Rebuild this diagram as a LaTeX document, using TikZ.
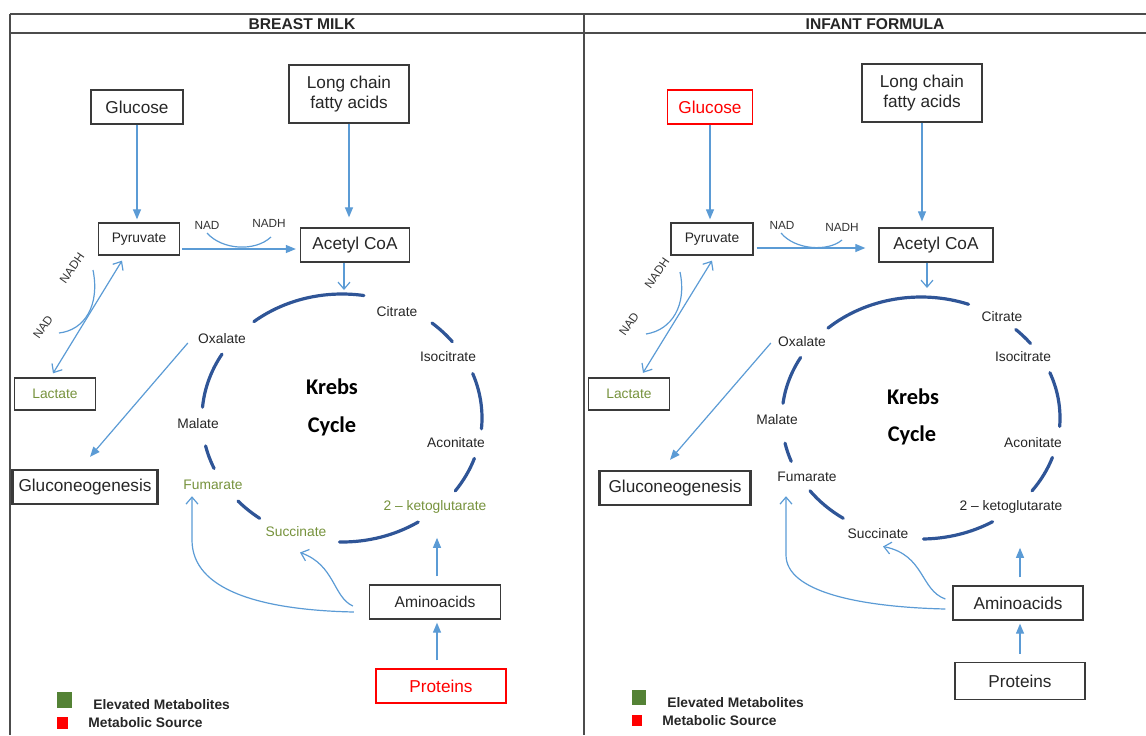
\documentclass[tikz,border=0pt]{standalone}
\usepackage{fontspec}
\setmainfont{Liberation Sans}
\newfontfamily\krebsfont{Carlito}
\usetikzlibrary{arrows.meta,calc}

\definecolor{arrblue}{HTML}{5B9BD5}
\definecolor{cycnavy}{HTML}{2F5597}
\definecolor{metgreen}{HTML}{76923C}
\definecolor{leggreen}{HTML}{548235}
\definecolor{boxgray}{HTML}{3A3A3A}

\tikzset{
  box/.style={draw=boxgray, line width=0.65pt, inner sep=0pt, minimum height=17pt, align=center,
    text=black!85, font=\fontsize{8.6}{10}\selectfont},
  smallbox/.style={box, minimum height=16pt, font=\fontsize{6.9}{8}\selectfont},
  met/.style={inner sep=0pt, text=black!85, font=\fontsize{6.9}{8}\selectfont},
  cof/.style={inner sep=0pt, text=black!80, font=\fontsize{5.9}{7}\selectfont},
  krebs/.style={inner sep=0pt, font=\krebsfont\bfseries\fontsize{11.2}{13}\selectfont},
  head/.style={inner sep=0pt, text=black!85, font=\bfseries\fontsize{7.8}{9}\selectfont},
  legtxt/.style={inner sep=0pt, anchor=west, text=black!85, font=\bfseries\fontsize{6.9}{8}\selectfont},
  fillarr/.style={arrblue, line width=0.6pt, -{Triangle[length=5pt,width=4pt]}},
  openarr/.style={arrblue, line width=0.6pt, -{Straight Barb[length=3.5pt,width=6pt]}},
  bothopen/.style={arrblue, line width=0.6pt, {Straight Barb[length=3.5pt,width=6pt]}-{Straight Barb[length=3.5pt,width=6pt]}},
  cofarc/.style={arrblue, line width=0.6pt},
  cycarc/.style={cycnavy, line width=1.6pt, line cap=round},
  frame/.style={draw=black!70, line width=1pt}
}

\begin{document}
\begin{tikzpicture}[x=0.5pt, y=-0.5pt]
\useasboundingbox (0,0) rectangle (1146,735);

% frame and headers
\draw[frame] (10,14) -- (1146,14);
\draw[frame] (10,33) -- (1146,33);
\draw[frame] (10,14) -- (10,735);
\draw[frame] (584,14) -- (584,735);
\node[head] (hbm) at (302,24) {BREAST MILK};
\node[head] (hif) at (875,24) {INFANT FORMULA};

% ---------- breast milk ----------
\node[box, minimum width=46pt] (glucL) at (137,107) {Glucose};
\node[box, minimum width=60pt, minimum height=29pt] (lcfaL) at (349,94) {Long chain\\fatty acids};
\node[smallbox, minimum width=40.5pt] (pyrL) at (139,239) {Pyruvate};
\node[box, minimum width=54.5pt] (acetylL) at (355,245) {Acetyl CoA};
\node[smallbox, minimum width=40.5pt, text=metgreen] (lacL) at (55,394) {Lactate};
\node[box, line width=1.2pt, minimum width=72.5pt] (gluL) at (85,487) {Gluconeogenesis};
\node[box, minimum width=65.5pt, font=\fontsize{7.8}{9}\selectfont] (aminoL) at (435,602) {Aminoacids};
\node[box, draw=red, text=red, minimum width=65pt] (protL) at (441,686) {Proteins};

\draw[fillarr, shorten >=1.5pt] (glucL.south) -- (glucL.south |- pyrL.north);
\draw[fillarr, shorten >=5pt] (lcfaL.south) -- (lcfaL.south |- acetylL.north);
\draw[fillarr, shorten <=1pt, shorten >=2pt] ([yshift=-5pt]pyrL.east) -- ([yshift=-5pt]pyrL.east -| acetylL.west);
\node[cof] (nadL) at (207,225) {NAD};
\node[cof] (nadhL) at (269,223) {NADH};
\draw[cofarc] (207,233) .. controls (222,250) and (255,252) .. (271,237);

\draw[bothopen] ($(pyrL.south)+(-17,5)$) -- ($(lacL.north)+(-2,-4)$);
\draw[cofarc] (93,270) .. controls (100,305) and (85,330) .. (59,333);
\node[cof, rotate=55] (nadhL2) at (72,268) {NADH};
\node[cof, rotate=55] (nadL2) at (43,327) {NAD};

% krebs cycle
\coordinate (kcL) at (342,418);
\foreach \a/\b in {-129/-81,-50/-38,-21/5,19/36,57/91,126/138,156/167,185/211}
  \draw[cycarc] (kcL) ++(\a:140 and 124) arc[start angle=\a, end angle=\b, x radius=140, y radius=124];
\node[met] (citL) at (397,312) {Citrate};
\node[met] (isoL) at (448,357) {Isocitrate};
\node[met] (aconL) at (456,443) {Aconitate};
\node[met, text=metgreen] (ketoL) at (435,507) {2 – ketoglutarate};
\node[met, text=metgreen] (succL) at (296,532) {Succinate};
\node[met, text=metgreen] (fumL) at (213,485) {Fumarate};
\node[met] (malL) at (198,424) {Malate};
\node[met] (oxaL) at (222,339) {Oxalate};
\node[krebs] (krebsL) at (332,387) {Krebs};
\node[krebs] (cycleL) at (332,426) {Cycle};

\coordinate (kcLtop) at (344,290);
\draw[openarr] (acetylL.south -| kcLtop) -- (kcLtop);
\draw[fillarr] ($(oxaL.west)+(-10,4)$) -- ($(gluL.north)+(5,-12)$);
\draw[fillarr, shorten <=4pt, shorten >=12pt] ([xshift=1pt]aminoL.north) -- ([xshift=1pt]aminoL.north |- ketoL.south);
\draw[fillarr, shorten <=4pt, shorten >=1.5pt] ([xshift=-2pt]protL.north) -- ([xshift=-2pt]protL.north |- aminoL.south);
\draw[openarr] ($(aminoL.west)+(-15,10)$) .. controls (260,610) and (192,590) .. (192,540) -- ($(fumL.south)+(-21,6)$);
\draw[openarr] ($(aminoL.west)+(-16,4)$) .. controls (333,597) and (335,565) .. ($(succL.south)+(4,15)$);

% legend
\node[fill=leggreen, minimum width=7.5pt, minimum height=8pt, inner sep=0pt] (sqgL) at (64.5,700) {};
\node[legtxt] (elevL) at (93,705) {Elevated Metabolites};
\node[fill=red, minimum width=5.5pt, minimum height=6pt, inner sep=0pt] (sqrL) at (62.5,723) {};
\node[legtxt] (srcL) at (88,723) {Metabolic Source};

% ---------- infant formula ----------
\node[box, draw=red, text=red, minimum width=42.5pt] (glucR) at (710,107) {Glucose};
\node[box, minimum width=60pt, minimum height=29pt] (lcfaR) at (922,93) {Long chain\\fatty acids};
\node[smallbox, minimum width=41pt] (pyrR) at (712,239) {Pyruvate};
\node[box, minimum width=57pt] (acetylR) at (936,245) {Acetyl CoA};
\node[smallbox, minimum width=40.5pt, text=metgreen] (lacR) at (629,394) {Lactate};
\node[box, line width=1.2pt, minimum width=75.5pt] (gluR) at (675,488) {Gluconeogenesis};
\node[box, minimum width=65pt] (aminoR) at (1018,603) {Aminoacids};
\node[box, minimum width=65pt, minimum height=18.5pt] (protR) at (1020,681) {Proteins};

\draw[fillarr, shorten >=1.5pt] (glucR.south) -- (glucR.south |- pyrR.north);
\draw[fillarr, shorten >=3pt] (lcfaR.south) -- (lcfaR.south |- acetylR.north);
\draw[fillarr, shorten <=1.5pt, shorten >=6.5pt] ([yshift=-4.5pt]pyrR.east) -- ([yshift=-4.5pt]pyrR.east -| acetylR.west);
\node[cof] (nadR) at (782,225) {NAD};
\node[cof] (nadhR) at (842,227) {NADH};
\draw[cofarc] (781,233) .. controls (795,250) and (828,252) .. (842,240);

\draw[bothopen] ($(pyrR.south)+(0,5)$) -- ($(lacR.north)+(14,-4.5)$);
\draw[cofarc] (680,272) .. controls (687,305) and (672,330) .. (646,334);
\node[cof, rotate=55] (nadhR2) at (657,273) {NADH};
\node[cof, rotate=55] (nadR2) at (629,324) {NAD};

% krebs cycle
\coordinate (kcR) at (921,418);
\foreach \a/\b in {-132/-70,-47/-38,-22/4,19/37,59/89,124/143,159/168,187/210}
  \draw[cycarc] (kcR) ++(\a:139 and 121) arc[start angle=\a, end angle=\b, x radius=139, y radius=121];
\node[met] (citR) at (1002,317) {Citrate};
\node[met] (isoR) at (1023,357) {Isocitrate};
\node[met] (aconR) at (1033,443) {Aconitate};
\node[met] (ketoR) at (1011,507) {2 – ketoglutarate};
\node[met] (succR) at (878,534) {Succinate};
\node[met] (fumR) at (807,477) {Fumarate};
\node[met] (malR) at (777,420) {Malate};
\node[met] (oxaR) at (802,342) {Oxalate};
\node[krebs] (krebsR) at (913,397) {Krebs};
\node[krebs] (cycleR) at (912,435) {Cycle};

\coordinate (kcRtop) at (927,288);
\draw[openarr] (acetylR.south -| kcRtop) -- (kcRtop);
\draw[fillarr] ($(oxaR.west)+(-7,1)$) -- ($(gluR.north)+(-5,-10)$);
\draw[fillarr, shorten <=4pt, shorten >=17pt] ([xshift=1pt]aminoR.north) -- ([xshift=1pt]aminoR.north |- ketoR.south);
\draw[fillarr, shorten <=4pt, shorten >=1.5pt] (protR.north) -- (protR.north |- aminoR.south);
\draw[openarr] ($(aminoR.west)+(-7,6)$) .. controls (860,607) and (786,592) .. (786,555) -- ($(fumR.south)+(-21,14)$);
\draw[openarr] ($(aminoR.west)+(-7,-4)$) .. controls (920,590) and (925,555) .. ($(succR.south)+(5,7)$);

% legend
\node[fill=leggreen, minimum width=7pt, minimum height=7.5pt, inner sep=0pt] (sqgR) at (639,697.5) {};
\node[legtxt] (elevR) at (667,703) {Elevated Metabolites};
\node[fill=red, minimum width=5pt, minimum height=5.5pt, inner sep=0pt] (sqrR) at (637,720.5) {};
\node[legtxt] (srcR) at (662,721) {Metabolic Source};
\end{tikzpicture}
\end{document}
